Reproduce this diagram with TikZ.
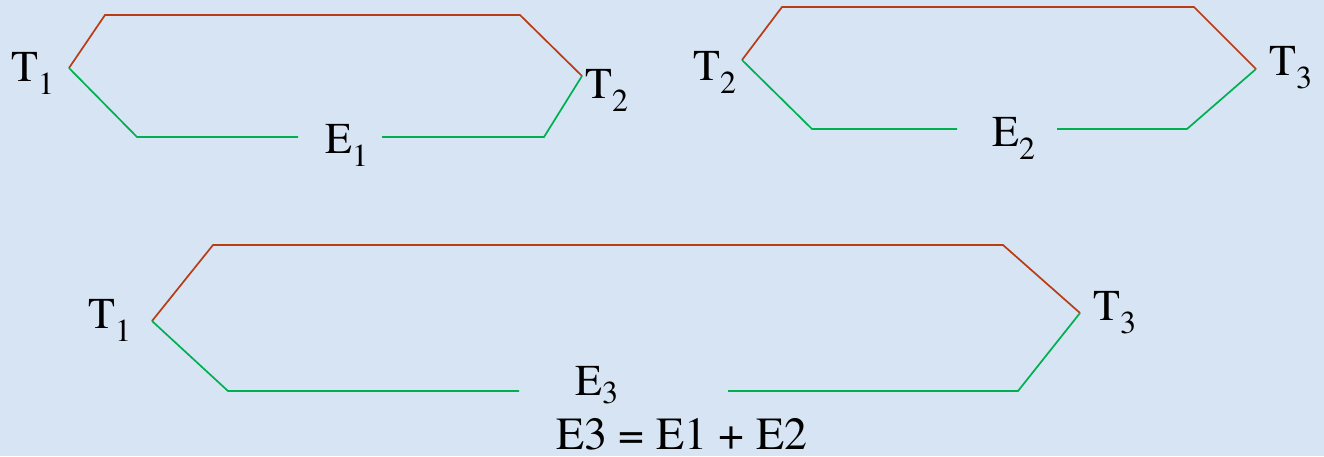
\documentclass[tikz,border=0pt]{standalone}
\usepackage{fontspec}
\setmainfont{texgyretermes-regular.otf}
\definecolor{bg}{RGB}{214,228,244}
\definecolor{brn}{RGB}{185,60,20}
\definecolor{grn}{RGB}{0,176,80}
\newcommand\sbs[2][-13pt]{\raisebox{#1}{\fontsize{32}{32}\selectfont #2}}
\begin{document}
\begin{tikzpicture}[x=1pt,y=-1pt,
  lbl/.style={inner sep=0pt, anchor=base west, font=\fontsize{44}{50}\selectfont},
  upper/.style={draw=brn, line width=1.7pt, line join=miter},
  lower/.style={draw=grn, line width=1.7pt, line join=miter}]
\fill[bg] (0,0) rectangle (1324,456);
\useasboundingbox (0,0) rectangle (1324,456);
% diagram 1
\coordinate (a1) at (69,68);  \coordinate (b1) at (105,15);
\coordinate (c1) at (520,15); \coordinate (d1) at (582,76);
\coordinate (e1) at (544,137);\coordinate (f1) at (137,137);
\coordinate (g1) at (298,137);\coordinate (h1) at (382,137);
\node[lbl] (t11) at (11,81) {T\sbs{1}};
\node[lbl] (t12) at (585,98) {T\sbs{2}};
\node[lbl] (e1l) at (325,153) {E\sbs{1}};
\draw[upper] (a1) -- (b1) -- (c1) -- (d1);
\draw[lower] (a1) -- (f1) -- (g1);
\draw[lower] (h1) -- (e1) -- (d1);
% diagram 2
\coordinate (a2) at (742,60);  \coordinate (b2) at (782,7);
\coordinate (c2) at (1194,7);  \coordinate (d2) at (1256,69);
\coordinate (e2) at (1187,129);\coordinate (f2) at (812,129);
\coordinate (g2) at (957,129); \coordinate (h2) at (1057,129);
\node[lbl] (t22) at (693,80) {T\sbs{2}};
\node[lbl] (t23) at (1269,75) {T\sbs{3}};
\node[lbl] (e2l) at (992,146) {E\sbs{2}};
\draw[upper] (a2) -- (b2) -- (c2) -- (d2);
\draw[lower] (a2) -- (f2) -- (g2);
\draw[lower] (h2) -- (e2) -- (d2);
% diagram 3
\coordinate (a3) at (152,321);  \coordinate (b3) at (213,245);
\coordinate (c3) at (1003,245); \coordinate (d3) at (1080,313);
\coordinate (e3) at (1018,391); \coordinate (f3) at (228,391);
\coordinate (g3) at (519,391);  \coordinate (h3) at (728,391);
\node[lbl] (t31) at (88,328) {T\sbs{1}};
\node[lbl] (t33) at (1093,320) {T\sbs{3}};
\node[lbl] (e3l) at (575,395) {E\sbs[-8pt]{3}};
\draw[upper] (a3) -- (b3) -- (c3) -- (d3);
\draw[lower] (a3) -- (f3) -- (g3);
\draw[lower] (h3) -- (e3) -- (d3);
\node[lbl, font=\fontsize{46}{50}\selectfont] (eq) at (556,449) {E3 = E1 + E2};
\end{tikzpicture}
\end{document}
